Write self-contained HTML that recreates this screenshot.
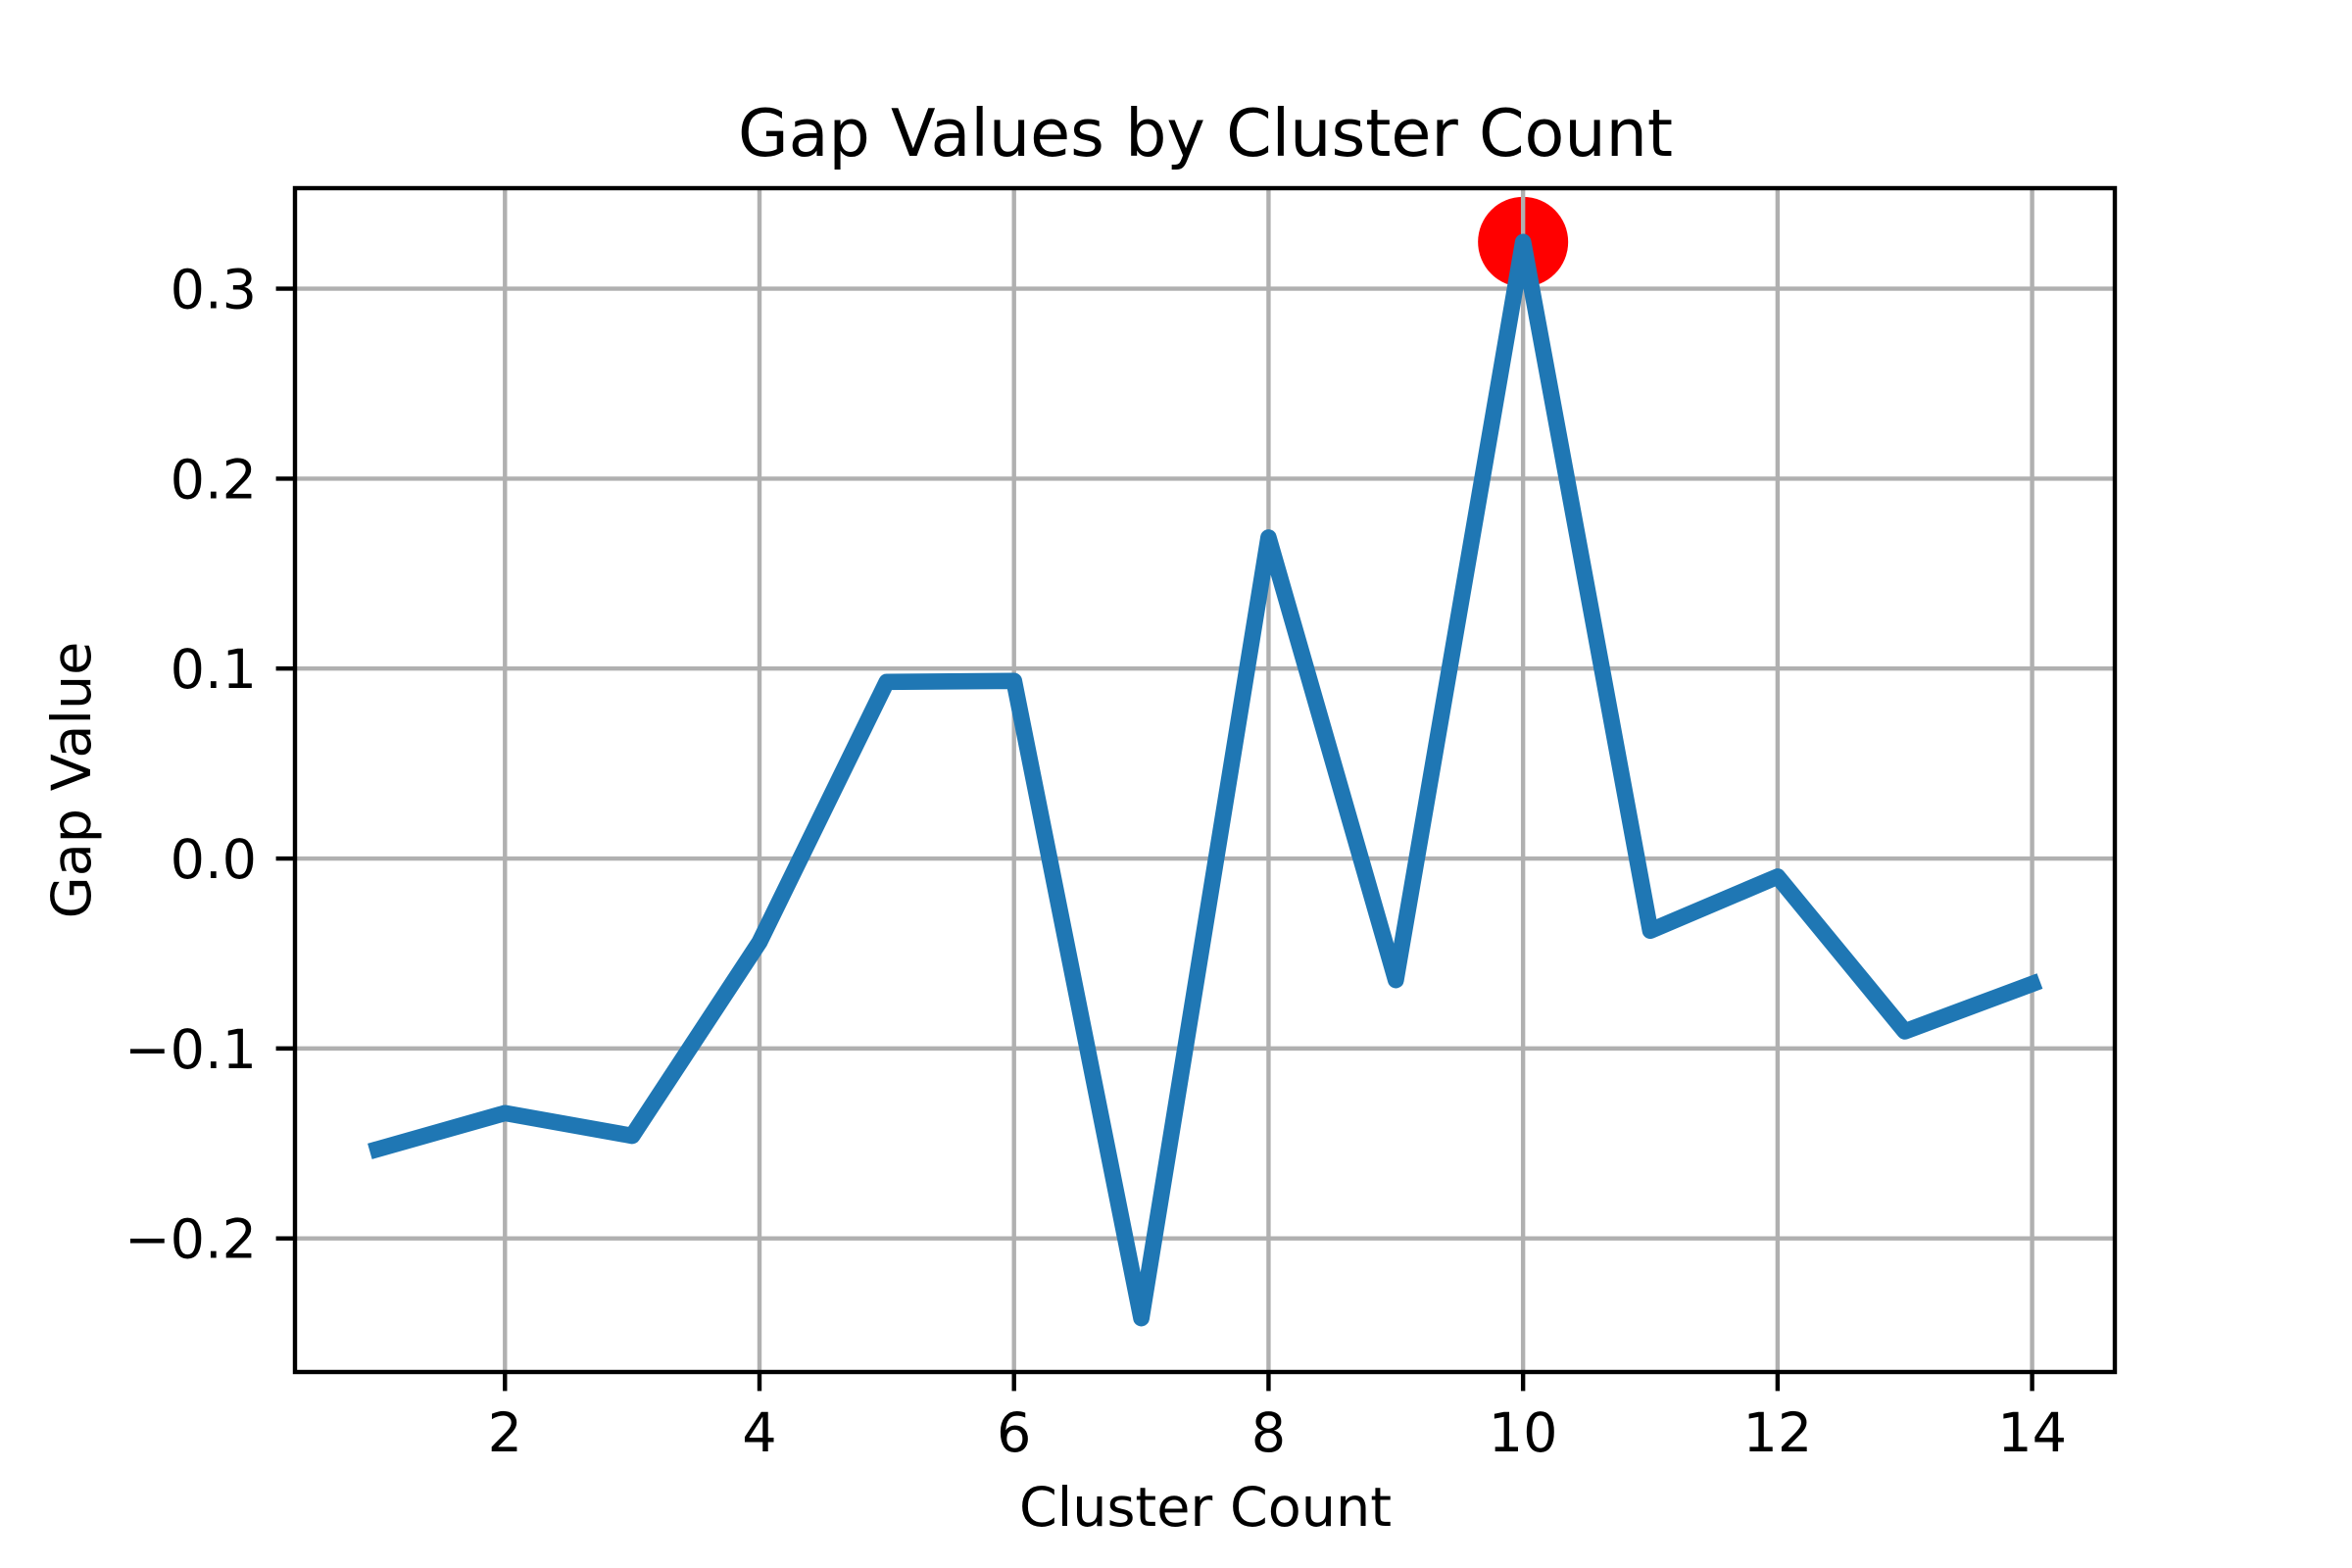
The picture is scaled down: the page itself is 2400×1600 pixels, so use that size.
<!DOCTYPE html>
<html><head><meta charset="utf-8"><style>
html,body{margin:0;padding:0;background:#fff;}
svg{display:block;font-family:"DejaVu Sans","Liberation Sans",sans-serif;}
</style></head><body>
<svg id="chart" width="2400" height="1600" viewBox="0 0 2400 1600" xmlns="http://www.w3.org/2000/svg">
<rect width="2400" height="1600" fill="#fff"/>
<g id="plot"></g>
<text x="1230" y="159" text-anchor="middle" font-size="66.7" fill="#000">Gap Values by Cluster Count</text>
<text x="1230" y="1557" text-anchor="middle" font-size="55.6" fill="#000">Cluster Count</text>
<text transform="translate(92,796) rotate(-90)" text-anchor="middle" font-size="55.6" fill="#000">Gap Value</text>
</svg>
<script>
const clusterCounts = [1,2,3,4,5,6,7,8,9,10,11,12,13,14];
const gapValues = [-0.153,-0.134,-0.146,-0.044,0.093,0.0935,-0.242,0.169,-0.064,0.3246,-0.038,-0.0095,-0.091,-0.066];
const xTicks = [2,4,6,8,10,12,14];
const yTicks = [-0.2,-0.1,0.0,0.1,0.2,0.3];
const yTickLabels = ["\u22120.2","\u22120.1","0.0","0.1","0.2","0.3"];
const bestIndex = 9;

const L=301, R=2158, T=192, B=1400;
const xmin0=Math.min(...clusterCounts), xmax0=Math.max(...clusterCounts);
const xm=(xmax0-xmin0)*0.05, xmin=xmin0-xm, xmax=xmax0+xm;
const ymin0=Math.min(...gapValues), ymax0=Math.max(...gapValues);
const ym=(ymax0-ymin0)*0.05, ymin=ymin0-ym, ymax=ymax0+ym;
function xs(v){return L+(v-xmin)/(xmax-xmin)*(R-L);}
function ys(v){return B-(v-ymin)/(ymax-ymin)*(B-T);}
const NS="http://www.w3.org/2000/svg";
const g=document.getElementById('plot');
function mk(t,a){const e=document.createElementNS(NS,t);for(const k in a)e.setAttribute(k,a[k]);g.appendChild(e);return e;}

const dot=mk('circle',{cx:xs(clusterCounts[bestIndex]),cy:ys(gapValues[bestIndex]),r:46,fill:'#ff0000'});



xTicks.forEach(v=>{
  const x=xs(v);
  const gl=mk('line',{x1:x,x2:x,y1:T,y2:B,stroke:'#b0b0b0','stroke-width':4.4});
  
  
  const tk=mk('line',{x1:x,x2:x,y1:B,y2:B+19.4,stroke:'#000','stroke-width':4.4});
  
  
  const tx=mk('text',{x:x,y:1481,'text-anchor':'middle','font-size':55.6,fill:'#000'});
  tx.textContent=String(v);
  
  
});
yTicks.forEach((v,i)=>{
  const y=ys(v);
  const gl=mk('line',{x1:L,x2:R,y1:y,y2:y,stroke:'#b0b0b0','stroke-width':4.4});
  
  
  const tk=mk('line',{x1:L-19.4,x2:L,y1:y,y2:y,stroke:'#000','stroke-width':4.4});
  
  
  const tx=mk('text',{x:L-39,y:y+20,'text-anchor':'end','font-size':55.6,fill:'#000'});
  tx.textContent=yTickLabels[i];
  
  
});

const pts=clusterCounts.map((c,i)=>xs(c).toFixed(1)+','+ys(gapValues[i]).toFixed(1)).join(' ');
const pl=mk('polyline',{points:pts,fill:'none',stroke:'#1f77b4','stroke-width':16.7,'stroke-linejoin':'round','stroke-linecap':'square'});



const fr=mk('rect',{x:L,y:T,width:R-L,height:B-T,fill:'none',stroke:'#000','stroke-width':4.4,'stroke-linejoin':'miter'});


</script>
</body></html>
